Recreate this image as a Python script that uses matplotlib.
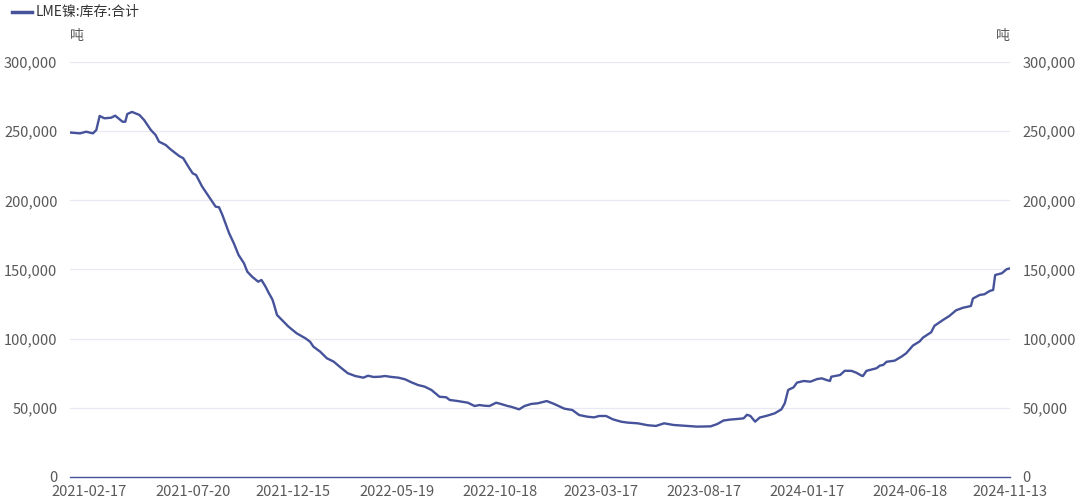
import pandas as pd
import matplotlib.pyplot as plt
import matplotlib.dates as mdates
from matplotlib.ticker import FuncFormatter

plt.rcParams['font.family'] = ['Noto Sans CJK SC', 'DejaVu Sans']

# LME镍库存合计（吨），从图上读取的近似值
dates = [
    '2021-01-19', '2021-02-03', '2021-02-12', '2021-02-22', '2021-02-27', '2021-03-04',
    '2021-03-11', '2021-03-21', '2021-03-27', '2021-04-07', '2021-04-11', '2021-04-14',
    '2021-04-21', '2021-05-02', '2021-05-09', '2021-05-19', '2021-05-26', '2021-05-31',
    '2021-06-10', '2021-06-17', '2021-06-30', '2021-07-06', '2021-07-15', '2021-07-20',
    '2021-07-25', '2021-08-03', '2021-08-13', '2021-08-23', '2021-08-28', '2021-09-02',
    '2021-09-12', '2021-09-19', '2021-09-26', '2021-10-04', '2021-10-09', '2021-10-16',
    '2021-10-25', '2021-10-30', '2021-11-05', '2021-11-10', '2021-11-15', '2021-11-17',
    '2021-11-22', '2021-12-04', '2021-12-09', '2021-12-21', '2022-01-03', '2022-01-10',
    '2022-01-15', '2022-01-25', '2022-02-04', '2022-02-14', '2022-02-24', '2022-03-07',
    '2022-03-18', '2022-03-30', '2022-04-06', '2022-04-14', '2022-04-24', '2022-05-01',
    '2022-05-11', '2022-05-21', '2022-05-31', '2022-06-09', '2022-06-19', '2022-06-29',
    '2022-07-09', '2022-07-21', '2022-07-31', '2022-08-05', '2022-08-17', '2022-09-01',
    '2022-09-11', '2022-09-18', '2022-09-26', '2022-10-03', '2022-10-13', '2022-10-20',
    '2022-10-30', '2022-11-04', '2022-11-14', '2022-11-16', '2022-11-24', '2022-12-04',
    '2022-12-14', '2022-12-27', '2023-01-07', '2023-01-22', '2023-02-03', '2023-02-13',
    '2023-02-25', '2023-03-07', '2023-03-15', '2023-03-25', '2023-04-04', '2023-04-16',
    '2023-04-26', '2023-05-11', '2023-05-26', '2023-06-07', '2023-06-19', '2023-07-03',
    '2023-07-18', '2023-08-07', '2023-08-27', '2023-09-06', '2023-09-15', '2023-09-25',
    '2023-10-05', '2023-10-15', '2023-10-20', '2023-10-25', '2023-11-01', '2023-11-08',
    '2023-11-18', '2023-11-30', '2023-12-10', '2023-12-15', '2023-12-20', '2023-12-28',
    '2024-01-02', '2024-01-12', '2024-01-22', '2024-02-01', '2024-02-08', '2024-02-15',
    '2024-02-20', '2024-02-22', '2024-03-01', '2024-03-06', '2024-03-13', '2024-03-23',
    '2024-03-30', '2024-04-07', '2024-04-09', '2024-04-14', '2024-04-29', '2024-05-04',
    '2024-05-09', '2024-05-14', '2024-05-26', '2024-06-05', '2024-06-12', '2024-06-22',
    '2024-07-02', '2024-07-07', '2024-07-19', '2024-07-24', '2024-08-05', '2024-08-15',
    '2024-08-25', '2024-09-04', '2024-09-16', '2024-09-19', '2024-09-29', '2024-10-06',
    '2024-10-14', '2024-10-19', '2024-10-22', '2024-11-01', '2024-11-08', '2024-11-13',
]
stock = [
    249.0, 248.4, 249.6, 248.4, 250.8, 261.0,
    259.3, 259.7, 261.2, 256.8, 256.8, 262.4,
    263.9, 261.7, 258.0, 250.8, 247.2, 242.4,
    240.0, 236.9, 232.0, 230.4, 223.2, 219.5,
    218.3, 209.9, 202.6, 195.4, 195.0, 189.4,
    176.2, 168.9, 160.5, 154.5, 148.4, 144.8,
    141.2, 142.4, 137.6, 132.8, 128.5, 125.6,
    117.1, 111.1, 108.7, 103.9, 100.3, 97.8,
    94.2, 90.6, 85.8, 83.4, 79.3, 75.0,
    73.0, 71.8, 73.2, 72.3, 72.5, 73.0,
    72.3, 71.8, 70.6, 68.5, 66.5, 65.3,
    62.9, 58.0, 57.6, 55.7, 54.9, 53.7,
    51.3, 52.0, 51.5, 51.3, 53.7, 52.8,
    51.3, 50.8, 49.2, 48.9, 51.3, 52.8,
    53.3, 54.9, 52.8, 49.4, 48.4, 44.8,
    43.6, 43.1, 44.1, 44.1, 41.7, 40.0,
    39.3, 38.8, 37.4, 36.9, 38.8, 37.6,
    37.1, 36.4, 36.6, 38.3, 40.8, 41.5,
    41.9, 42.4, 45.0, 44.1, 40.0, 43.0,
    44.2, 46.0, 48.9, 53.3, 62.9, 64.8,
    68.2, 69.4, 68.9, 70.8, 71.3, 70.1,
    69.4, 72.5, 73.2, 73.7, 76.8, 76.7,
    75.4, 73.2, 73.0, 76.7, 78.6, 80.5,
    81.0, 83.3, 84.1, 87.0, 89.4, 95.0,
    98.0, 100.8, 104.6, 109.3, 113.3, 116.4,
    120.5, 122.3, 123.6, 129.0, 131.6, 132.1,
    134.5, 135.2, 146.0, 147.3, 150.2, 150.8,
]
stock = [v * 1000 for v in stock]

tick_dates = ['2021-02-17', '2021-07-20', '2021-12-15', '2022-05-19', '2022-10-18',
              '2023-03-17', '2023-08-17', '2024-01-17', '2024-06-18', '2024-11-13']
y_ticks = [0, 50000, 100000, 150000, 200000, 250000, 300000]

df = pd.DataFrame({'date': pd.to_datetime(dates), 'stock': stock})

line_color = '#46539a'
grid_color = '#e9e9f6'
text_color = '#595959'

fig = plt.figure(figsize=(10.8, 5.04), dpi=100)
ax = fig.add_axes([0.0648, 0.0536, 0.8704, 0.8234])

ax.plot(df['date'], df['stock'], color=line_color, linewidth=1.7)

ax.set_xlim(pd.Timestamp(dates[0]), pd.Timestamp(dates[-1]))
ax.set_ylim(0, 300000)
ax.set_yticks(y_ticks)
ax.yaxis.set_major_formatter(FuncFormatter(lambda v, p: f'{int(v):,}'))
ax.grid(axis='y', color=grid_color, linewidth=0.9)
ax.set_axisbelow(True)

ax.set_xticks(pd.to_datetime(tick_dates))
ax.xaxis.set_major_formatter(mdates.DateFormatter('%Y-%m-%d'))

for s in ['top', 'left', 'right']:
    ax.spines[s].set_visible(False)
ax.spines['bottom'].set_color(line_color)
ax.spines['bottom'].set_linewidth(1.0)

ax.tick_params(axis='x', length=0, pad=6, labelsize=10.5, colors=text_color)
ax.tick_params(axis='y', length=0, pad=9, labelsize=10.5, colors=text_color,
               labelright=True)

# 单位
fig.text(77 / 1080, 1 - 36 / 504, '吨', fontsize=10, color=text_color, ha='center', va='center')
fig.text(1003 / 1080, 1 - 36 / 504, '吨', fontsize=10, color=text_color, ha='center', va='center')

# 图例
fig.lines.append(plt.Line2D([12 / 1080, 32 / 1080], [1 - 12 / 504, 1 - 12 / 504],
                            color=line_color, linewidth=2.5, transform=fig.transFigure))
fig.text(36 / 1080, 1 - 12 / 504, 'LME镍:库存:合计', fontsize=10, color='#333333',
         ha='left', va='center')

plt.savefig('out.png', dpi=100)
